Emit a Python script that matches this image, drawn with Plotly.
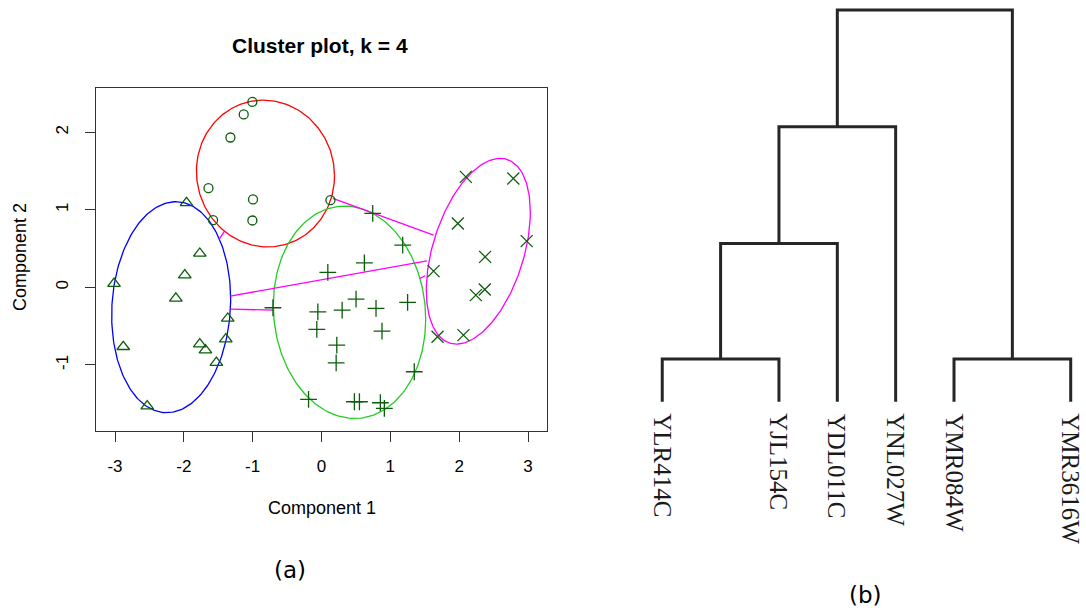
import numpy as np
import plotly.graph_objects as go

# ---------------- (a) cluster plot data ----------------
circ_x = [-1.004, -1.13, -1.323, -1.642, -0.995, -1.575, -1.004, 0.13]
circ_y = [2.392, 2.23, 1.933, 1.28, 1.134, 0.867, 0.863, 1.125]

tri_x = [-1.768, -1.986, -3.014, -2.116, -1.362, -2.88, -1.39, -1.768, -1.686, -1.527, -2.532, -1.961]
tri_y = [0.438, 0.158, 0.05, -0.142, -0.4, -0.765, -0.666, -0.73, -0.808, -0.97, -1.53, 1.09]

plus_x = [1.18, 0.623, 0.092, 0.502, 1.251, -0.053, 0.3, 0.792, -0.068, 0.879,
          0.222, 0.213, 1.348, -0.188, 0.478, 0.551, 0.855, 0.913, 0.744, -0.705]
plus_y = [0.545, 0.317, 0.193, -0.151, -0.193, -0.314, -0.293, -0.271, -0.541, -0.563,
          -0.744, -0.972, -1.087, -1.443, -1.474, -1.474, -1.487, -1.56, 0.954, -0.262]

cross_x = [2.097, 2.787, 1.981, 2.981, 2.377, 1.628, 2.242, 2.372, 1.686, 2.062]
cross_y = [1.425, 1.404, 0.825, 0.597, 0.394, 0.21, -0.099, -0.026, -0.636, -0.615]

# spanning ellipses: centre and shape matrix [[sxx, sxy], [sxy, syy]]
ell_cx = [-0.814, -2.184, 0.407, 2.278]
ell_cy = [1.468, -0.255, -0.32, 0.467]
ell_sxx = [1.006, 0.747, 1.225, 0.571]
ell_sxy = [-0.03, 0.09, -0.1, 0.38]
ell_syy = [0.895, 1.85, 1.874, 1.433]
ell_col = ["#FF0000", "#0000FF", "#22CC22", "#FF00FF"]

# segments joining neighbouring clusters
seg_x0 = [0.164, -1.406, -1.323, -1.323, 1.43]
seg_y0 = [1.147, 0.729, -0.112, -0.28, 0.116]
seg_x1 = [1.628, -1.488, 1.532, -0.705, 1.507]
seg_y1 = [0.674, 0.619, 0.343, -0.293, 0.15]

x_ticks = [-3, -2, -1, 0, 1, 2, 3]
y_ticks = [-1, 0, 1, 2]

# ---------------- (b) dendrogram data ----------------
leaf_labels = ["YLR414C", "YJL154C", "YDL011C", "YNL027W", "YMR084W", "YMR3616W"]
leaf_pos = [0, 2, 3, 4, 5, 7]
# merges: node ids 0-5 are leaves, new nodes numbered from 6
merge_a = [0, 6, 7, 4, 8]
merge_b = [1, 2, 3, 5, 9]
merge_h = [1.09, 4.04, 7.02, 1.09, 10.0]

fig = go.Figure()

PT = "#0B5D0B"
# ellipses
t = np.linspace(0, 2 * np.pi, 240)
for cx, cy, a, b, c, col in zip(ell_cx, ell_cy, ell_sxx, ell_sxy, ell_syy, ell_col):
    l11 = np.sqrt(a)
    l21 = b / l11
    l22 = np.sqrt(c - l21 ** 2)
    ex = cx + l11 * np.cos(t)
    ey = cy + l21 * np.cos(t) + l22 * np.sin(t)
    fig.add_trace(go.Scatter(x=ex, y=ey, mode="lines", line=dict(color=col, width=1.3),
                             hoverinfo="skip", showlegend=False))

# connecting segments
sx, sy = [], []
for x0, y0, x1, y1 in zip(seg_x0, seg_y0, seg_x1, seg_y1):
    sx += [x0, x1, None]
    sy += [y0, y1, None]
fig.add_trace(go.Scatter(x=sx, y=sy, mode="lines", line=dict(color="#FF00FF", width=1.3),
                         hoverinfo="skip", showlegend=False))

# points
for px, py, sym, sz in [(circ_x, circ_y, "circle-open", 9),
                        (tri_x, tri_y, "triangle-up-open", 11),
                        (plus_x, plus_y, "cross-thin-open", 12),
                        (cross_x, cross_y, "x-thin-open", 12)]:
    fig.add_trace(go.Scatter(x=px, y=py, mode="markers",
                             marker=dict(symbol=sym, size=sz, color=PT,
                                         line=dict(color=PT, width=1.3)),
                             showlegend=False))

# dendrogram
node_x = list(map(float, leaf_pos))
node_h = [0.0] * len(leaf_pos)
dx, dy = [], []
for a, b, h in zip(merge_a, merge_b, merge_h):
    xa, xb = node_x[a], node_x[b]
    dx += [xa, xa, xb, xb, None]
    dy += [node_h[a], h, h, node_h[b], None]
    node_x.append((xa + xb) / 2)
    node_h.append(h)
fig.add_trace(go.Scatter(x=dx, y=dy, mode="lines", xaxis="x2", yaxis="y2",
                         line=dict(color="#262626", width=3), hoverinfo="skip",
                         showlegend=False))

annotations = []
for lab, pos in zip(leaf_labels, leaf_pos):
    annotations.append(dict(x=pos, y=-0.25, xref="x2", yref="y2", text=lab,
                            textangle=90, showarrow=False, xanchor="center", yanchor="top",
                            font=dict(family="Liberation Serif", size=25, color="#1a1a1a")))

SANS = "Liberation Sans"


def paper_text(px, py, text, font, angle=0):
    return dict(x=px / 1086, y=1 - py / 611, xref="paper", yref="paper", text=text,
                textangle=angle, showarrow=False, xanchor="center", yanchor="middle",
                font=font)


annotations += [
    paper_text(320.3, 45, "<b>Cluster plot, k = 4</b>", dict(family=SANS, size=21, color="black")),
    paper_text(321.5, 508, "Component 1", dict(family=SANS, size=18, color="black")),
    paper_text(20, 257, "Component 2", dict(family=SANS, size=18, color="black"), -90),
    paper_text(290, 570, "(a)", dict(family="DejaVu Sans", size=23, color="black")),
    paper_text(865, 595, "(b)", dict(family="DejaVu Sans", size=23, color="black")),
]

fig.update_layout(
    width=1086, height=611,
    margin=dict(l=0, r=0, t=0, b=0),
    paper_bgcolor="white", plot_bgcolor="white",
    showlegend=False,
    annotations=annotations,
    xaxis=dict(domain=[96 / 1086, 547 / 1086], range=[-3.276, 3.276],
               tickvals=x_ticks, ticktext=[str(v) for v in x_ticks],
               showgrid=False, zeroline=False, showline=True, mirror=True,
               linecolor="#333333", linewidth=1, ticks="outside", ticklen=10,
               tickcolor="#333333", ticklabelstandoff=10,
               tickfont=dict(family=SANS, size=17, color="black")),
    yaxis=dict(domain=[(611 - 431) / 611, (611 - 88) / 611], range=[-1.851, 2.571],
               tickvals=y_ticks, ticktext=[str(v) for v in y_ticks], tickangle=-90,
               showgrid=False, zeroline=False, showline=True, mirror=True,
               linecolor="#333333", linewidth=1, ticks="outside", ticklen=10,
               tickcolor="#333333", ticklabelstandoff=10,
               tickfont=dict(family=SANS, size=17, color="black")),
    xaxis2=dict(domain=[0.56, 1.0], range=[-0.927, 7.262], anchor="y2",
                visible=False, fixedrange=True),
    yaxis2=dict(domain=[0, 1], range=[-5.343, 10.255], anchor="x2",
                visible=False, fixedrange=True),
)

fig.write_html("out.html")
